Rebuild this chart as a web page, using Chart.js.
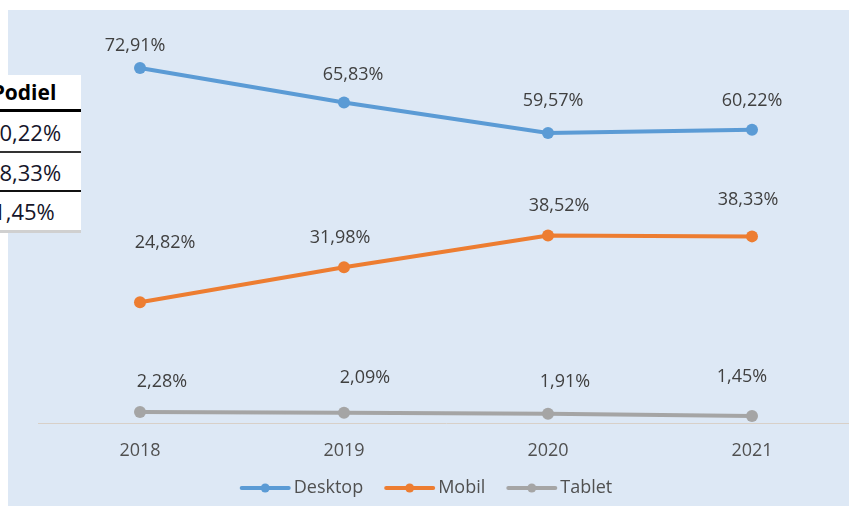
<!DOCTYPE html>
<html>
<head>
<meta charset="utf-8">
<script src="https://cdn.jsdelivr.net/npm/chart.js@4/dist/chart.umd.min.js"></script>
<style>
  html, body { margin: 0; padding: 0; background: #fff; width: 849px; height: 506px; overflow: hidden; }
  #bg { position: absolute; left: 8px; top: 10px; right: 0; bottom: 0; background: #dde8f5; }
  #wrap { position: absolute; left: 0; top: 0; width: 870px; height: 506px; }
  #tbl { position: absolute; left: 0; top: 75px; width: 81px; height: 158px; background: #fff; overflow: hidden; z-index: 2; }
  #tbl table { position: absolute; left: -35px; top: 0; width: 118px; border-collapse: collapse;
    font-family: "Open Sans", sans-serif; font-size: 22px; color: #15152a; text-align: center; }
  #tbl td { padding: 0; line-height: 1; }
  #tbl .h td { height: 34px; font-size: 21px; font-weight: bold; color: #000; border-bottom: 3px solid #000; }
  #tbl .r1 td { height: 39px; border-bottom: 2px solid #333; }
  #tbl .r2 td { height: 37px; border-bottom: 2px solid #111; }
  #tbl .r3 td { height: 38px; border-bottom: 3px solid #d0d0d0; }
</style>
</head>
<body>
<div id="bg"></div>
<div id="wrap"><canvas id="c" width="870" height="506"></canvas></div>
<div id="tbl">
  <table>
    <tr class="h"><td>Podiel</td></tr>
    <tr class="r1"><td>60,22%</td></tr>
    <tr class="r2"><td>38,33%</td></tr>
    <tr class="r3"><td>1,45%</td></tr>
  </table>
</div>
<script>
"use strict";
const years = ["2018", "2019", "2020", "2021"];
const desktop = [72.91, 65.83, 59.57, 60.22];
const mobil = [24.82, 31.98, 38.52, 38.33];
const tablet = [2.28, 2.09, 1.91, 1.45];

// where each value label sits relative to its point (px)
const labelDx = [[-5, 9, 5, 0], [25, -4, 11, -4], [22, 21, 17, -10]];
const labelDy = [[-22, -28, -32, -29], [-59, -29, -30, -37], [-30, -35, -32, -39]];

const FONT = '18px "Open Sans", sans-serif';
const fmt = (v) => v.toFixed(2).replace(".", ",") + "%";

const valueLabels = {
  id: "valueLabels",
  afterDatasetsDraw(chart) {
    const ctx = chart.ctx;
    ctx.save();
    ctx.font = FONT; ctx.fillStyle = "#404040";
    ctx.textAlign = "center"; ctx.textBaseline = "middle";
    chart.data.datasets.forEach((ds, i) => {
      chart.getDatasetMeta(i).data.forEach((pt, j) => {
        ctx.fillText(fmt(ds.data[j]), pt.x + labelDx[i][j], pt.y + labelDy[i][j]);
      });
    });
    ctx.restore();
  },
};

// line + dot legend under the axis
const lineLegend = {
  id: "lineLegend",
  afterDraw(chart, args, o) {
    const ctx = chart.ctx;
    ctx.save();
    ctx.font = FONT; ctx.textBaseline = "middle";
    const items = chart.data.datasets.map((ds) => ({ ds, w: ctx.measureText(ds.label).width }));
    const total = items.reduce((s, it) => s + o.line + o.gap + it.w, 0) + o.spacing * (items.length - 1);
    let x = o.cx - total / 2;
    items.forEach(({ ds, w }) => {
      ctx.strokeStyle = ds.borderColor; ctx.lineWidth = 4; ctx.lineCap = "round";
      ctx.beginPath(); ctx.moveTo(x + 2, o.cy); ctx.lineTo(x + o.line - 2, o.cy); ctx.stroke();
      ctx.fillStyle = ds.borderColor;
      ctx.beginPath(); ctx.arc(x + o.line / 2, o.cy, 4.5, 0, Math.PI * 2); ctx.fill();
      ctx.fillStyle = "#505050"; ctx.textAlign = "left";
      ctx.fillText(ds.label, x + o.line + o.gap, o.cy);
      x += o.line + o.gap + w + o.spacing;
    });
    ctx.restore();
  },
};

const series = (label, data, color) => ({
  label, data, borderColor: color, backgroundColor: color, borderWidth: 4,
  pointRadius: 6, pointHoverRadius: 6, pointBorderWidth: 0, tension: 0,
});

function build() {
  new Chart(document.getElementById("c"), {
    type: "line",
    data: {
      labels: years,
      datasets: [
        series("Desktop", desktop, "#5b9bd5"),
        series("Mobil", mobil, "#ed7d31"),
        series("Tablet", tablet, "#a5a5a5"),
      ],
    },
    options: {
      responsive: false, animation: false,
      layout: { padding: { left: 38, right: 16, top: 33.5, bottom: 0 } },
      scales: {
        x: {
          offset: true,
          grid: { display: false, drawTicks: false },
          border: { display: true, color: "#d8d0c8", width: 1 },
          ticks: { color: "#505050", font: { family: "Open Sans", size: 18 }, padding: 17 },
          afterFit: (s) => { s.height = 83; },
        },
        y: { display: false, min: 0, max: 80 },
      },
      plugins: {
        legend: { display: false },
        tooltip: { enabled: false },
        lineLegend: { cx: 426, cy: 488, line: 51, gap: 3, spacing: 21 },
      },
    },
    plugins: [valueLabels, lineLegend],
  });
}

document.fonts.load(FONT).then(build, build);
</script>
</body>
</html>
